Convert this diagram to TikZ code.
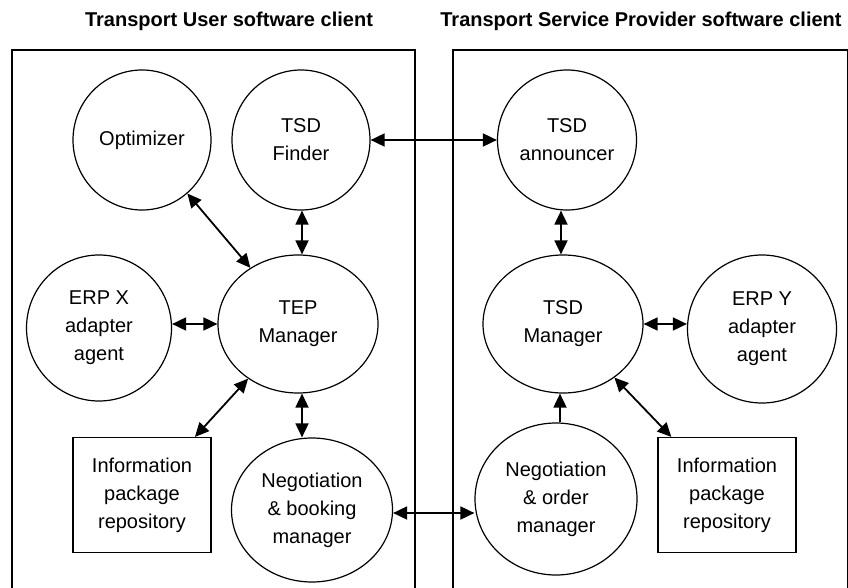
\documentclass[tikz,border=0pt]{standalone}
\usepackage{fontspec}
\setmainfont{Liberation Sans}
\usetikzlibrary{arrows.meta,shapes.geometric}

\tikzset{
    agent/.style={ellipse, draw, line width=1.2pt, inner sep=0pt, align=center,
        font=\fontsize{20}{28}\selectfont},
    store/.style={rectangle, draw, line width=1.2pt, inner sep=0pt, align=center,
        minimum width=138pt, minimum height=115pt, font=\fontsize{20}{28}\selectfont},
    frame/.style={line width=1.3pt},
    title/.style={font=\fontsize{20}{24}\bfseries\selectfont},
    link/.style={line width=1.8pt, {Triangle[length=14pt,width=13pt]}-{Triangle[length=14pt,width=13pt]}},
    onelink/.style={line width=1.8pt, -{Triangle[length=14pt,width=13pt]}}
}

\begin{document}
\begin{tikzpicture}[x=1pt, y=-1pt]
    \useasboundingbox (0,0) rectangle (848,588);

    % Client frames and titles
    \draw[frame] (12,590) -- (12,50) -- (415,50) -- (415,590);
    \draw[frame] (453,590) -- (453,50) -- (848,50) -- (848,590);
    \node[title] (usertitle) at (229,21) {Transport User software client};
    \node[title] (provtitle) at (641,21) {Transport Service Provider software client};

    % Transport User side
    \node[agent, minimum width=138pt, minimum height=140pt] (optimizer) at (142,140) {Optimizer};
    \node[agent, minimum width=138pt, minimum height=140pt] (finder) at (301,140) {TSD\\Finder};
    \node[agent, minimum width=160pt, minimum height=138pt] (tep) at (298,324) {TEP\\Manager};
    \node[agent, minimum width=145pt, minimum height=146pt] (erpx) at (99,328) {ERP X\\adapter\\agent};
    \node[store] (infox) at (142,495) {Information\\package\\repository};
    \node[agent, minimum width=161pt, minimum height=144pt] (booking) at (312,510) {Negotiation\\\& booking\\manager};

    % Transport Service Provider side
    \node[agent, minimum width=139pt, minimum height=140pt] (announcer) at (567,140) {TSD\\announcer};
    \node[agent, minimum width=160pt, minimum height=138pt] (tsdman) at (563,324) {TSD\\Manager};
    \node[agent, minimum width=149pt, minimum height=148pt] (erpy) at (762,329) {ERP Y\\adapter\\agent};
    \node[agent, minimum width=162pt, minimum height=152pt] (order) at (556,499) {Negotiation\\\& order\\manager};
    \node[store] (infoy) at (727,495) {Information\\package\\repository};

    % Links inside the user client
    \draw[link] (optimizer) -- (tep);
    \draw[link] ([xshift=1pt]finder.south) -- ([xshift=1pt]finder.south |- tep.north);
    \draw[link] (erpx.east |- tep.west) -- (tep.west);
    \draw[link] (tep) -- (infox);
    \draw[link] ([xshift=4pt]tep.south) -- ([xshift=4pt]tep.south |- booking.north);

    % Links between the clients
    \draw[link] (finder.east) -- (finder.east -| announcer.west);
    \draw[link] ([yshift=-3pt]booking.east) -- ([yshift=-3pt]booking.east -| order.west);

    % Links inside the provider client
    \draw[link] ([xshift=-6pt]announcer.south) -- ([xshift=-6pt]announcer.south |- tsdman.north);
    \draw[link] (tsdman.east) -- (tsdman.east -| erpy.west);
    \draw[onelink] ([xshift=4pt]order.north) -- ([xshift=4pt]order.north |- tsdman.south);
    \draw[link] (tsdman) -- (infoy);
\end{tikzpicture}
\end{document}
